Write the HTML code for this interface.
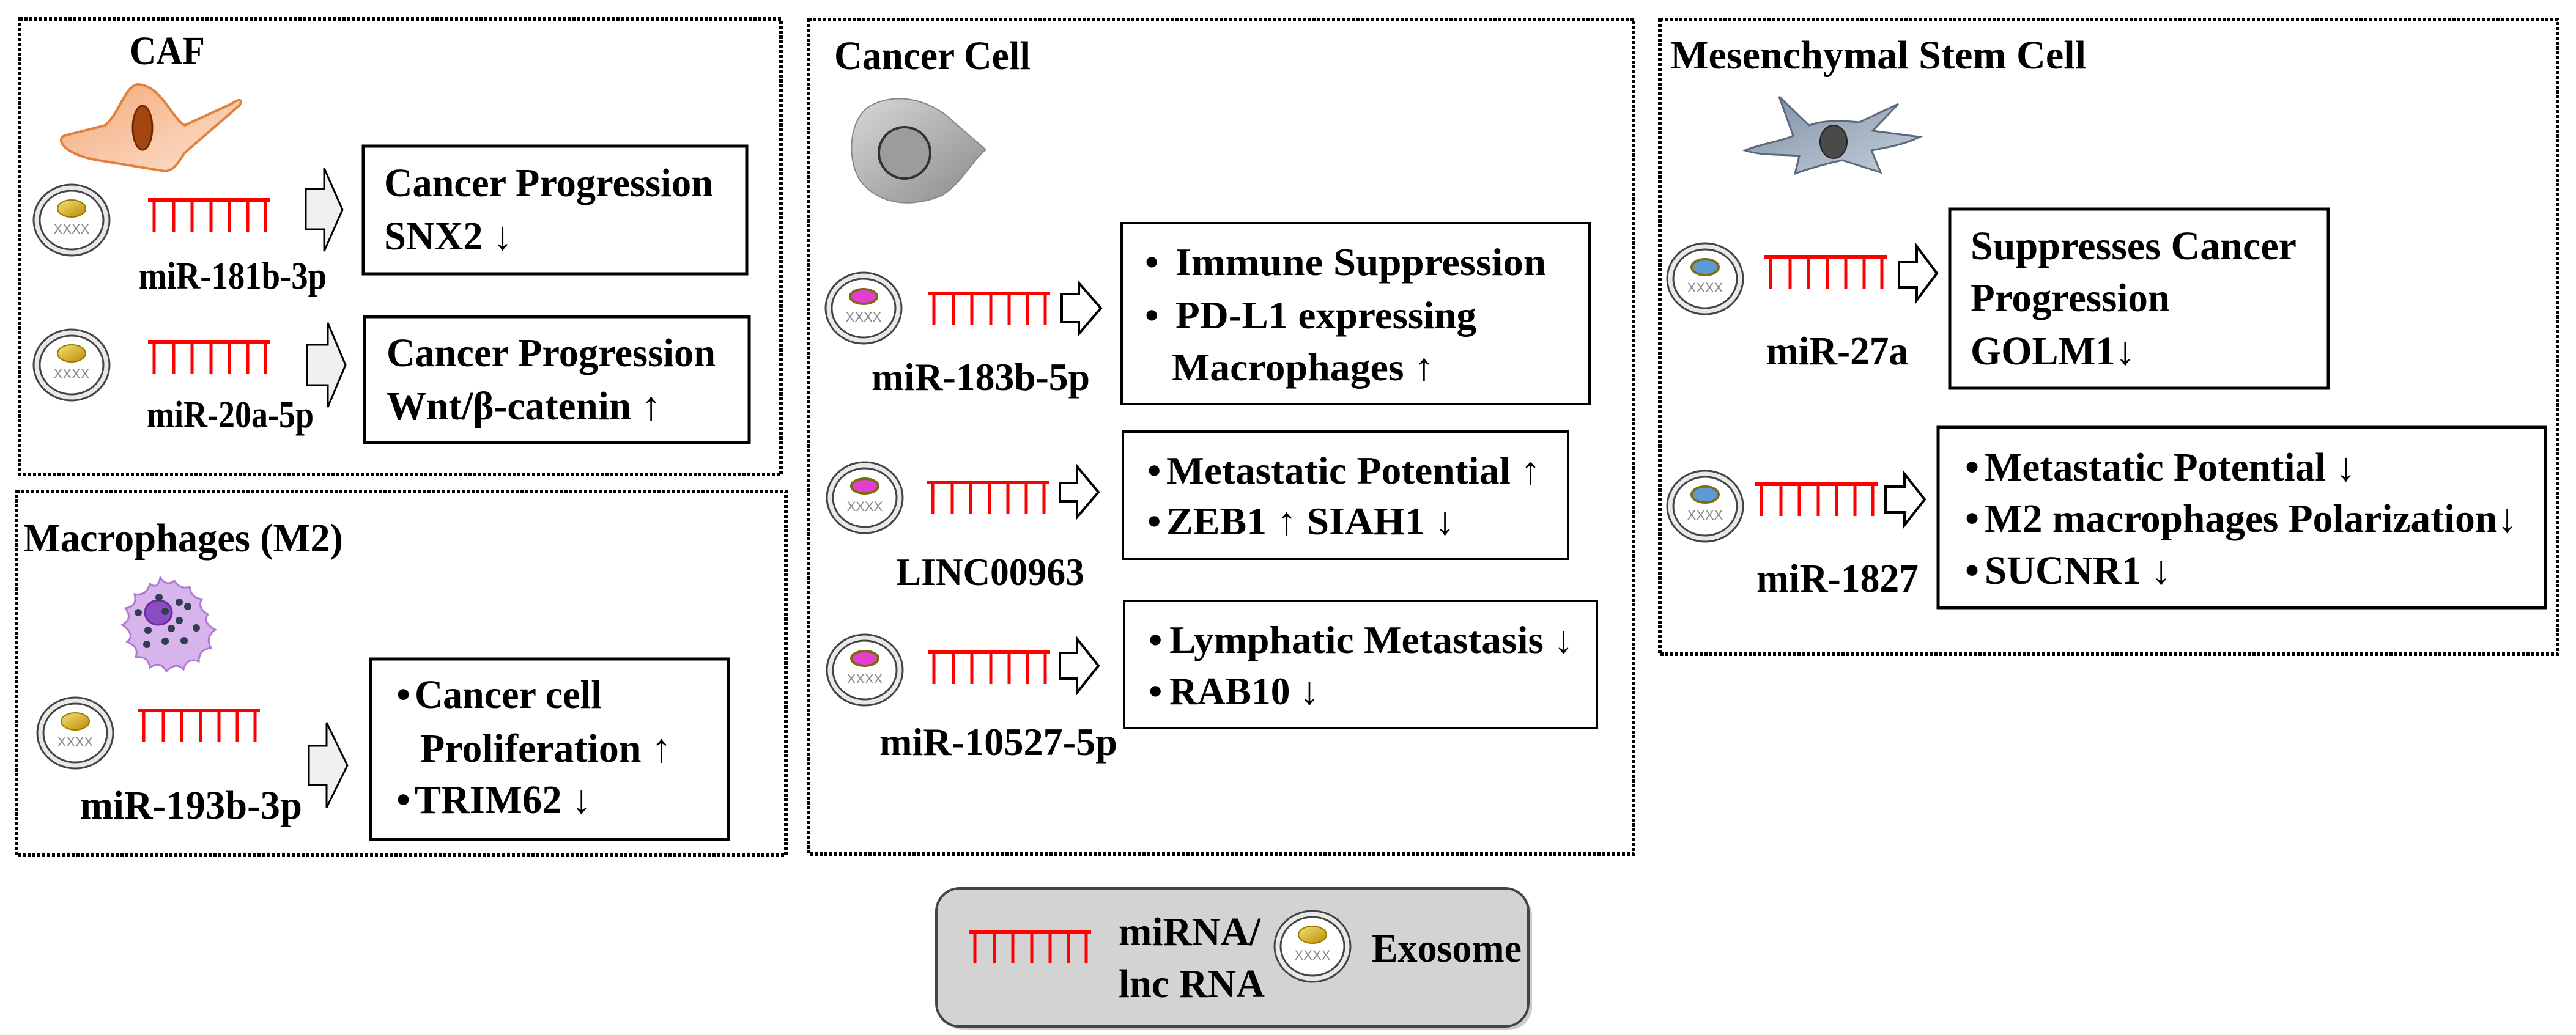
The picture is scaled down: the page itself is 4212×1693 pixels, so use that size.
<!DOCTYPE html>
<html><head><meta charset="utf-8"><style>
html,body{margin:0;padding:0;background:#fff;}
svg{display:block;}
text{font-family:"Liberation Serif",serif;font-weight:bold;fill:#000;}
</style></head><body>
<svg width="4212" height="1693" viewBox="0 0 4212 1693" xmlns="http://www.w3.org/2000/svg">
<defs>
<linearGradient id="gold" x1="0" y1="0" x2="1" y2="1"><stop offset="0" stop-color="#f7e27a"/><stop offset="1" stop-color="#b88a00"/></linearGradient>
<linearGradient id="caf" x1="0" y1="0" x2="1" y2="1"><stop offset="0" stop-color="#f4a878"/><stop offset="1" stop-color="#fde2d0"/></linearGradient>
<linearGradient id="gray" x1="0" y1="0" x2="1" y2="1"><stop offset="0" stop-color="#d8d8d8"/><stop offset="1" stop-color="#8a8a8a"/></linearGradient>
<linearGradient id="msc" x1="0" y1="0" x2="1" y2="1"><stop offset="0" stop-color="#7d8ea3"/><stop offset="1" stop-color="#c5d0dc"/></linearGradient>
<g id="exoBase">
<ellipse rx="62" ry="58" fill="#e8e8e8" stroke="#444" stroke-width="3"/>
<ellipse rx="52" ry="48" fill="#fff" stroke="#444" stroke-width="3"/>
<text x="0" y="22" text-anchor="middle" style="font-family:'Liberation Sans',sans-serif;font-weight:normal;font-size:22px;fill:#888">XXXX</text>
</g>
<g id="exoY"><use href="#exoBase"/><ellipse cy="-19" rx="23" ry="14" fill="url(#gold)" stroke="#9a7a00" stroke-width="2"/></g>
<g id="exoM"><use href="#exoBase"/><ellipse cy="-19" rx="22" ry="12" fill="#e33fcf" stroke="#7a6a10" stroke-width="4"/></g>
<g id="exoB"><use href="#exoBase"/><ellipse cy="-19" rx="22" ry="13" fill="#5b9bd5" stroke="#8a6a10" stroke-width="4"/></g>
<g id="rna" stroke="#ff0000" fill="none">
<line x1="0" y1="2" x2="200" y2="2" stroke-width="6"/>
<line x1="10" y1="2" x2="10" y2="54" stroke-width="5"/>
<line x1="42" y1="2" x2="42" y2="54" stroke-width="5"/>
<line x1="72" y1="2" x2="72" y2="54" stroke-width="5"/>
<line x1="103" y1="2" x2="103" y2="54" stroke-width="5"/>
<line x1="133" y1="2" x2="133" y2="54" stroke-width="5"/>
<line x1="163" y1="2" x2="163" y2="54" stroke-width="5"/>
<line x1="192" y1="2" x2="192" y2="54" stroke-width="5"/>
</g>
</defs>

<g fill="none" stroke="#000" stroke-width="6" stroke-dasharray="5 3">
<rect x="32" y="31" width="1245" height="745"/>
<rect x="27" y="804" width="1258" height="595"/>
<rect x="1322" y="32" width="1349" height="1365"/>
<rect x="2714" y="32" width="1468" height="1038"/>
</g>

<text x="212" y="105" font-size="66" textLength="123" lengthAdjust="spacingAndGlyphs">CAF</text>
<path d="M225 138 C205 140 195 185 172 205 L105 222 C88 232 115 255 160 262 L270 280 C287 278 292 264 302 250 L392 172 C398 160 388 163 378 170 L302 205 C282 195 262 138 225 138 Z" fill="url(#caf)" stroke="#e0823d" stroke-width="4"/>
<ellipse cx="233" cy="209" rx="16" ry="36" fill="#a3460f" stroke="#6b2a00" stroke-width="3"/>
<use href="#exoY" transform="translate(117,360)"/>
<use href="#rna" transform="translate(242,325)"/>
<polygon points="500,309 530,309 530,275 560,343 530,411 530,375 500,375" fill="#f0f0f0" stroke="#000" stroke-width="3"/>
<rect x="594" y="239" width="627" height="209" fill="#fff" stroke="#000" stroke-width="5"/>
<text x="628" y="321" font-size="66" textLength="538" lengthAdjust="spacingAndGlyphs">Cancer Progression</text>
<text x="628" y="408" font-size="66" textLength="210" lengthAdjust="spacingAndGlyphs">SNX2 ↓</text>
<text x="227" y="472" font-size="62" textLength="307" lengthAdjust="spacingAndGlyphs">miR-181b-3p</text>
<use href="#exoY" transform="translate(117,597)"/>
<use href="#rna" transform="translate(242,557)"/>
<polygon points="502,564 536,564 536,528 565,597 536,666 536,630 502,630" fill="#f0f0f0" stroke="#000" stroke-width="3"/>
<rect x="596" y="518" width="629" height="206" fill="#fff" stroke="#000" stroke-width="5"/>
<text x="632" y="599" font-size="66" textLength="538" lengthAdjust="spacingAndGlyphs">Cancer Progression</text>
<text x="632" y="686" font-size="66" textLength="449" lengthAdjust="spacingAndGlyphs">Wnt/β-catenin ↑</text>
<text x="240" y="699" font-size="62" textLength="273" lengthAdjust="spacingAndGlyphs">miR-20a-5p</text>

<text x="38" y="902" font-size="66" textLength="523" lengthAdjust="spacingAndGlyphs">Macrophages (M2)</text>
<path d="M262 945 Q272 960 285 950 Q295 965 310 960 Q312 978 330 980 Q322 995 340 1005 Q330 1018 352 1030 Q335 1042 345 1060 Q325 1062 325 1082 Q305 1075 300 1095 Q288 1082 272 1098 Q262 1080 245 1092 Q242 1072 222 1075 Q228 1058 208 1050 Q222 1038 200 1022 Q218 1012 205 995 Q225 992 220 972 Q240 975 245 955 Q258 965 262 945 Z" fill="#d8b4ec" stroke="#b07cd0" stroke-width="3"/>
<ellipse cx="259" cy="1002" rx="22" ry="20" fill="#8a4cc0" stroke="#6a2ca0" stroke-width="3"/>
<g fill="#2f3f4f">
<circle cx="260" cy="977" r="6"/><circle cx="293" cy="985" r="6"/><circle cx="307" cy="992" r="6"/>
<circle cx="226" cy="1002" r="6"/><circle cx="270" cy="1000" r="6"/><circle cx="293" cy="1015" r="6"/>
<circle cx="280" cy="1028" r="6"/><circle cx="242" cy="1031" r="6"/><circle cx="321" cy="1027" r="6"/>
<circle cx="240" cy="1054" r="6"/><circle cx="270" cy="1049" r="6"/><circle cx="301" cy="1048" r="6"/>
</g>
<use href="#exoY" transform="translate(123,1199)"/>
<use href="#rna" transform="translate(225,1160)"/>
<polygon points="505,1220 534,1220 534,1182 568,1252 534,1321 534,1284 505,1284" fill="#f0f0f0" stroke="#000" stroke-width="3"/>
<rect x="606" y="1078" width="585" height="295" fill="#fff" stroke="#000" stroke-width="5"/>
<text x="648" y="1158" font-size="66">•</text>
<text x="678" y="1158" font-size="66" textLength="306" lengthAdjust="spacingAndGlyphs">Cancer cell</text>
<text x="687" y="1246" font-size="66" textLength="411" lengthAdjust="spacingAndGlyphs">Proliferation ↑</text>
<text x="648" y="1330" font-size="66">•</text>
<text x="678" y="1330" font-size="66" textLength="289" lengthAdjust="spacingAndGlyphs">TRIM62 ↓</text>
<text x="131" y="1339" font-size="66" textLength="363" lengthAdjust="spacingAndGlyphs">miR-193b-3p</text>

<text x="1364" y="113" font-size="66" textLength="321" lengthAdjust="spacingAndGlyphs">Cancer Cell</text>
<path d="M1420 175 C1460 150 1520 160 1560 200 L1612 245 C1590 262 1572 300 1540 320 C1490 340 1440 335 1410 300 C1385 270 1385 200 1420 175 Z" fill="url(#gray)" stroke="#888" stroke-width="2"/>
<circle cx="1479" cy="250" r="42" fill="#9c9c9c" stroke="#333" stroke-width="4"/>
<use href="#exoM" transform="translate(1412,504)"/>
<use href="#rna" transform="translate(1517,478)"/>
<polygon points="1736,481 1764,481 1764,463 1800,504 1764,546 1764,527 1736,527" fill="#fff" stroke="#000" stroke-width="4"/>
<rect x="1834" y="365" width="765" height="296" fill="#fff" stroke="#000" stroke-width="4"/>
<text x="1872" y="450" font-size="64">•</text>
<text x="1922" y="450" font-size="64" textLength="606" lengthAdjust="spacingAndGlyphs">Immune Suppression</text>
<text x="1872" y="537" font-size="64">•</text>
<text x="1922" y="537" font-size="64" textLength="492" lengthAdjust="spacingAndGlyphs">PD-L1 expressing</text>
<text x="1916" y="622" font-size="64" textLength="429" lengthAdjust="spacingAndGlyphs">Macrophages ↑</text>
<text x="1425" y="638" font-size="64" textLength="357" lengthAdjust="spacingAndGlyphs">miR-183b-5p</text>
<use href="#exoM" transform="translate(1414,814)"/>
<use href="#rna" transform="translate(1515,787)"/>
<polygon points="1733,790 1761,790 1761,763 1796,805 1761,846 1761,820 1733,820" fill="#fff" stroke="#000" stroke-width="4"/>
<rect x="1836" y="706" width="728" height="208" fill="#fff" stroke="#000" stroke-width="4"/>
<text x="1876" y="791" font-size="64">•</text>
<text x="1907" y="791" font-size="64" textLength="612" lengthAdjust="spacingAndGlyphs">Metastatic Potential ↑</text>
<text x="1876" y="874" font-size="64">•</text>
<text x="1907" y="874" font-size="64" textLength="472" lengthAdjust="spacingAndGlyphs">ZEB1 ↑ SIAH1 ↓</text>
<text x="1465" y="957" font-size="64" textLength="308" lengthAdjust="spacingAndGlyphs">LINC00963</text>
<use href="#exoM" transform="translate(1414,1096)"/>
<use href="#rna" transform="translate(1517,1065)"/>
<polygon points="1733,1068 1761,1068 1761,1045 1796,1089 1761,1133 1761,1110 1733,1110" fill="#fff" stroke="#000" stroke-width="4"/>
<rect x="1838" y="983" width="773" height="208" fill="#fff" stroke="#000" stroke-width="4"/>
<text x="1878" y="1068" font-size="64">•</text>
<text x="1912" y="1068" font-size="64" textLength="661" lengthAdjust="spacingAndGlyphs">Lymphatic Metastasis ↓</text>
<text x="1878" y="1152" font-size="64">•</text>
<text x="1912" y="1152" font-size="64" textLength="245" lengthAdjust="spacingAndGlyphs">RAB10 ↓</text>
<text x="1438" y="1235" font-size="64" textLength="389" lengthAdjust="spacingAndGlyphs">miR-10527-5p</text>

<text x="2731" y="112" font-size="66" textLength="680" lengthAdjust="spacingAndGlyphs">Mesenchymal Stem Cell</text>
<path d="M2853 246 C2880 235 2910 232 2932 222 L2909 158 L2958 205 C2985 195 3020 198 3040 200 L3104 170 L3062 214 L3139 224 C3110 238 3080 242 3060 246 L3075 282 L3012 262 C2985 268 2960 275 2935 284 L2942 255 C2910 252 2880 255 2853 246 Z" fill="url(#msc)" stroke="#5a6a7a" stroke-width="3"/>
<ellipse cx="2998" cy="232" rx="22" ry="27" fill="#4a4a4a" stroke="#222" stroke-width="2"/>
<use href="#exoB" transform="translate(2788,456)"/>
<use href="#rna" transform="translate(2885,418)"/>
<polygon points="3105,429 3134,429 3134,403 3167,447 3134,491 3134,470 3105,470" fill="#fff" stroke="#000" stroke-width="4"/>
<rect x="3188" y="342" width="619" height="293" fill="#fff" stroke="#000" stroke-width="5"/>
<text x="3222" y="424" font-size="66" textLength="533" lengthAdjust="spacingAndGlyphs">Suppresses Cancer</text>
<text x="3222" y="509" font-size="66" textLength="326" lengthAdjust="spacingAndGlyphs">Progression</text>
<text x="3222" y="596" font-size="66" textLength="269" lengthAdjust="spacingAndGlyphs">GOLM1↓</text>
<text x="2888" y="596" font-size="66" textLength="232" lengthAdjust="spacingAndGlyphs">miR-27a</text>
<use href="#exoB" transform="translate(2788,828)"/>
<use href="#rna" transform="translate(2870,790)"/>
<polygon points="3083,796 3114,796 3114,775 3147,817 3114,859 3114,838 3083,838" fill="#fff" stroke="#000" stroke-width="4"/>
<rect x="3169" y="699" width="993" height="295" fill="#fff" stroke="#000" stroke-width="5"/>
<text x="3213" y="786" font-size="66">•</text>
<text x="3245" y="786" font-size="66" textLength="607" lengthAdjust="spacingAndGlyphs">Metastatic Potential ↓</text>
<text x="3213" y="870" font-size="66">•</text>
<text x="3245" y="870" font-size="66" textLength="871" lengthAdjust="spacingAndGlyphs">M2 macrophages Polarization↓</text>
<text x="3213" y="955" font-size="66">•</text>
<text x="3245" y="955" font-size="66" textLength="305" lengthAdjust="spacingAndGlyphs">SUCNR1 ↓</text>
<text x="2872" y="968" font-size="66" textLength="265" lengthAdjust="spacingAndGlyphs">miR-1827</text>

<rect x="1537" y="1459" width="968" height="226" rx="38" fill="#999" opacity="0.5"/>
<rect x="1531" y="1453" width="968" height="226" rx="38" fill="#d3d3d3" stroke="#444" stroke-width="4"/>
<use href="#rna" transform="translate(1584,1522)"/>
<text x="1829" y="1546" font-size="66" textLength="232" lengthAdjust="spacingAndGlyphs">miRNA/</text>
<text x="1829" y="1631" font-size="66" textLength="239" lengthAdjust="spacingAndGlyphs">lnc RNA</text>
<use href="#exoY" transform="translate(2146,1548)"/>
<text x="2243" y="1573" font-size="66" textLength="245" lengthAdjust="spacingAndGlyphs">Exosome</text>
</svg>
</body></html>
